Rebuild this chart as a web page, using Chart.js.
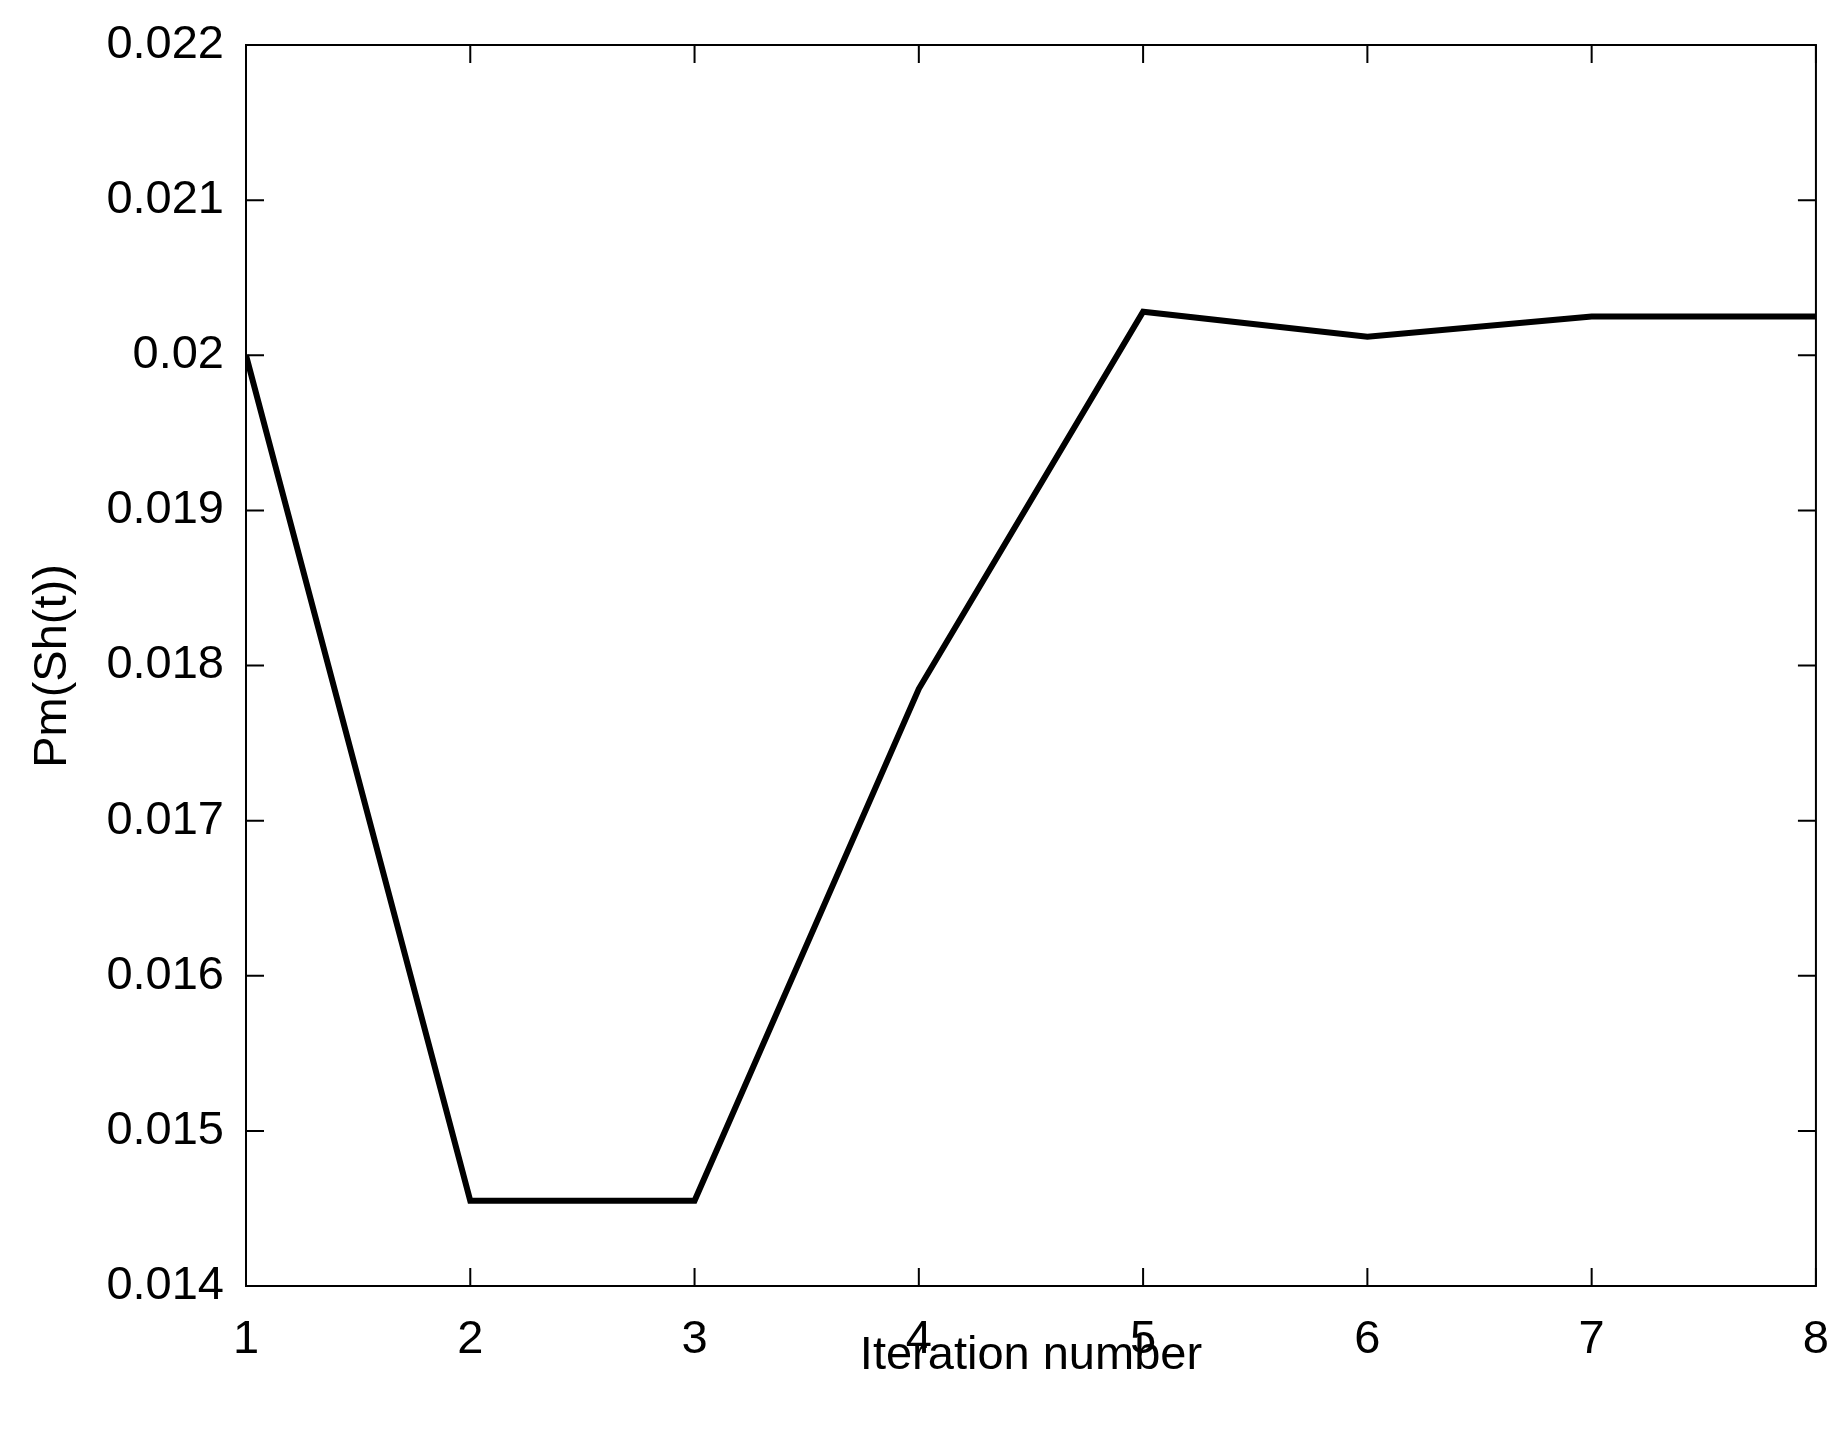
<!DOCTYPE html>
<html>
<head>
<meta charset="utf-8">
<script src="https://cdn.jsdelivr.net/npm/chart.js@4/dist/chart.umd.min.js"></script>
<style>
  body { margin: 0; background: #fff; }
  #wrap { width: 1847px; height: 1430px; }
</style>
</head>
<body>
<div id="wrap"><canvas id="myChart" width="1847" height="1430"></canvas></div>
<script>
// iteration numbers and Pm(Sh(t)) values
const iterations = [1, 2, 3, 4, 5, 6, 7, 8];
const pmValues = [0.0200, 0.01455, 0.01455, 0.01785, 0.02028, 0.02012, 0.02025, 0.02025];
const yTicks = [0.014, 0.015, 0.016, 0.017, 0.018, 0.019, 0.020, 0.021, 0.022];

const font = "'Liberation Sans', Arial, sans-serif";

// matlab style: box, inward ticks on all four sides, axis titles
const boxPlugin = {
    id: 'box',
    afterDraw(chart) {
        const { ctx, chartArea: a, scales } = chart;
        ctx.save();
        ctx.strokeStyle = '#000';
        ctx.lineWidth = 2;
        ctx.strokeRect(a.left, a.top, a.right - a.left, a.bottom - a.top);
        const len = 18;
        ctx.beginPath();
        iterations.forEach(v => {
            const x = scales.x.getPixelForValue(v);
            ctx.moveTo(x, a.bottom); ctx.lineTo(x, a.bottom - len);
            ctx.moveTo(x, a.top); ctx.lineTo(x, a.top + len);
        });
        yTicks.forEach(v => {
            const y = scales.y.getPixelForValue(v);
            ctx.moveTo(a.left, y); ctx.lineTo(a.left + len, y);
            ctx.moveTo(a.right, y); ctx.lineTo(a.right - len, y);
        });
        ctx.stroke();
        ctx.fillStyle = '#000';
        ctx.font = '47px ' + font;
        ctx.textAlign = 'center';
        ctx.textBaseline = 'middle';
        ctx.fillText('Iteration number', (a.left + a.right) / 2, 1356);
        ctx.translate(53, 666);
        ctx.rotate(-Math.PI / 2);
        ctx.fillText('Pm(Sh(t))', 0, 0);
        ctx.restore();
    }
};

const ctx = document.getElementById('myChart').getContext('2d');
const myChart = new Chart(ctx, {
    type: 'line',
    data: {
        datasets: [{
            data: iterations.map((x, i) => ({ x: x, y: pmValues[i] })),
            borderColor: '#000',
            borderWidth: 6,
            pointRadius: 0,
            tension: 0
        }]
    },
    options: {
        responsive: false,
        animation: false,
        layout: { padding: { top: 45, right: 30, left: 0, bottom: 0 } },
        plugins: { legend: { display: false }, tooltip: { enabled: false } },
        scales: {
            x: {
                type: 'linear', min: 1, max: 8,
                afterBuildTicks: s => { s.ticks = iterations.map(v => ({ value: v })); },
                afterFit: s => { s.height = 144; },
                grid: { display: false },
                border: { display: false },
                ticks: { color: '#000', padding: 18, font: { family: font, size: 47 }, maxRotation: 0 }
            },
            y: {
                min: 0.014, max: 0.022,
                afterBuildTicks: s => { s.ticks = yTicks.map(v => ({ value: v })); },
                afterFit: s => { s.width = 246; },
                grid: { display: false },
                border: { display: false },
                ticks: {
                    color: '#000', padding: 14, font: { family: font, size: 47 },
                    callback: v => String(Number(v.toFixed(3)))
                }
            }
        }
    },
    plugins: [boxPlugin]
});
</script>
</body>
</html>
